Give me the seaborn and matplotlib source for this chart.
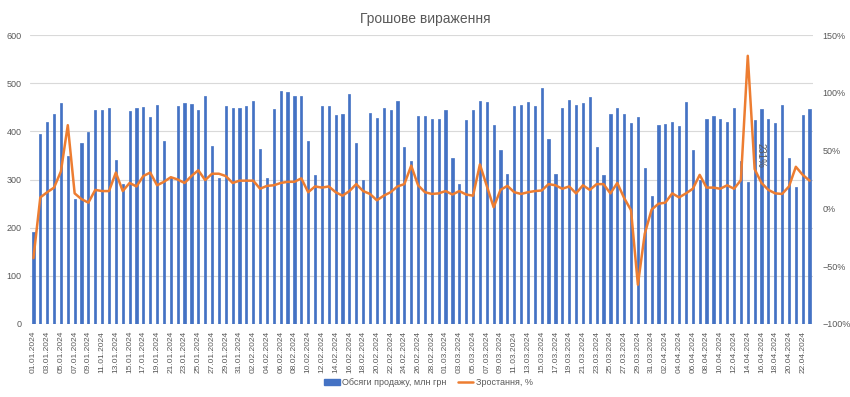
import numpy as np
import pandas as pd
import seaborn as sns
import matplotlib.pyplot as plt
from matplotlib.ticker import PercentFormatter
from matplotlib.patches import Patch
from matplotlib.lines import Line2D

# Дані
dates = pd.date_range("2024-01-01", periods=114).strftime("%d.%m.%Y").tolist()

sales = [191, 395, 420, 435, 458, 349, 260, 376, 398, 445, 445, 448, 340, 290,
         442, 449, 450, 430, 455, 379, 305, 452, 458, 456, 444, 474, 370, 303,
         452, 449, 448, 452, 464, 363, 304, 446, 483, 482, 474, 473, 380, 310,
         453, 453, 434, 437, 478, 375, 300, 438, 427, 449, 445, 464, 368, 339,
         431, 431, 425, 426, 444, 344, 291, 423, 444, 462, 460, 413, 361, 311,
         452, 455, 460, 452, 489, 384, 311, 448, 465, 455, 458, 471, 368, 310,
         435, 449, 435, 418, 429, 323, 266, 413, 415, 420, 411, 461, 362, 300,
         426, 431, 425, 420, 449, 338, 295, 424, 447, 426, 418, 455, 345, 285,
         434, 446]

growth = [-43, 9.5, 14, 18, 32, 72, 13, 8, 5, 16, 15, 15, 31, 15,
          22, 19, 28, 31, 20, 23, 27, 25, 22, 28, 33, 24.5, 30, 30,
          28, 22, 24, 24, 24, 17, 19.5, 20, 22, 23, 23, 26, 14, 19,
          18, 19, 14, 11, 15, 21, 15, 12.5, 7, 11, 14, 19, 21, 37,
          20, 14, 12.5, 13, 15, 12, 15, 12, 11, 38, 19.5, 1, 16, 19.5,
          14, 12.5, 14, 15, 15.5, 21, 20, 17, 19, 13, 20, 16, 21, 21,
          13, 22, 9, -1.5, -66, -22, -1, 4, 5, 13, 9.5, 13, 17, 29,
          18, 18, 17, 20, 17, 24.5, 132, 34, 22, 16, 13, 12.5, 19, 36,
          29, 24]

bar_color = "#4472C4"
line_color = "#ED7D31"
text_color = "#595959"

sns.set_style("white")
plt.rcParams["font.family"] = ["Liberation Sans", "DejaVu Sans"]

fig = plt.figure(figsize=(8.5, 3.97), dpi=100)
ax = fig.add_axes([0.0353, 0.1839, 0.9212, 0.7279])

sns.barplot(x=dates, y=sales, color=bar_color, saturation=1, width=0.32,
            edgecolor=bar_color, linewidth=0.5, ax=ax)
ax.set_ylim(0, 600)
ax.set_yticks(range(0, 601, 100))
ax.yaxis.grid(True, color="#d9d9d9", linewidth=0.8)
ax.set_axisbelow(True)
ax.set_xlabel("")
ax.set_ylabel("")

ax2 = ax.twinx()
sns.lineplot(x=np.arange(len(dates)), y=np.array(growth) / 100, ax=ax2,
             color=line_color, linewidth=1.8)
ax2.set_ylim(-1, 1.5)
ax2.set_yticks(np.arange(-1, 1.51, 0.5))
ax2.yaxis.set_major_formatter(PercentFormatter(1.0, decimals=0))
ax2.set_ylabel("")

# підпис даних
ax2.text(105.2, 0.46, "231%", rotation=270, fontsize=7, color=text_color,
         ha="left", va="center")

ax.set_xticks(range(0, len(dates), 2))
ax.set_xticklabels(dates[::2], rotation=90)
ax.set_xlim(-0.5, len(dates) - 0.5)

for a in (ax, ax2):
    for s in a.spines.values():
        s.set_visible(False)
    a.tick_params(length=0, labelsize=6.5, colors=text_color)
ax.tick_params(axis="x", pad=5, labelsize=6)
ax.tick_params(axis="y", pad=6)
ax2.tick_params(axis="y", pad=7)

fig.text(0.5, 0.953, "Грошове вираження", ha="center", va="center",
         fontsize=10, color=text_color)

handles = [Patch(color=bar_color), Line2D([], [], color=line_color, linewidth=1.8)]
fig.legend(handles, ["Обсяги продажу, млн грн", "Зростання, %"], loc="center",
           bbox_to_anchor=(0.504, 0.036), ncol=2, frameon=False, fontsize=6.5,
           labelcolor=text_color, handlelength=1.7, handleheight=0.5,
           columnspacing=1.2, handletextpad=0.3)

plt.savefig("out.png", dpi=100)
